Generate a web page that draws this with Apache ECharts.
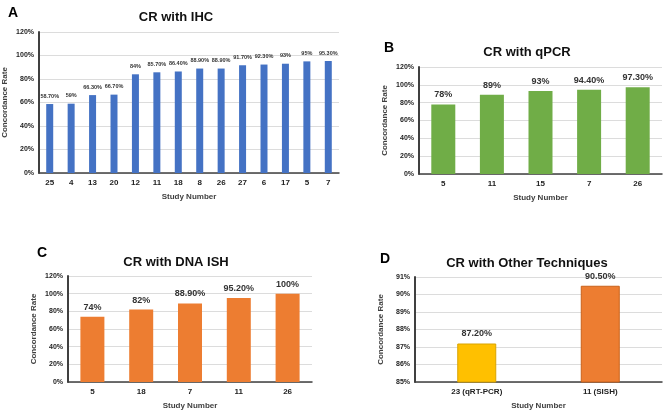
<!DOCTYPE html>
<html>
<head>
<meta charset="utf-8">
<script src="https://cdn.jsdelivr.net/npm/echarts@6/dist/echarts.min.js"></script>
<style>
  html, body { margin: 0; padding: 0; background: #fff; }
  #chart { width: 669px; height: 411px; }
</style>
</head>
<body>
<div id="chart"></div>
<script>
// panel A - IHC
var ihcStudies = ['25', '4', '13', '20', '12', '11', '18', '8', '26', '27', '6', '17', '5', '7'];
var ihcRates = [58.7, 59, 66.3, 66.7, 84, 85.7, 86.4, 88.9, 88.9, 91.7, 92.3, 93, 95, 95.3];
// panel B - qPCR
var qpcrStudies = ['5', '11', '15', '7', '26'];
var qpcrRates = [78, 89, 93, 94.4, 97.3];
// panel C - DNA ISH
var ishStudies = ['5', '18', '7', '11', '26'];
var ishRates = [74, 82, 88.9, 95.2, 100];
// panel D - other techniques
var otherStudies = ['23 (qRT-PCR)', '11 (SISH)'];
var otherRates = [87.2, 90.5];

var FONT = '"Liberation Sans", Arial, sans-serif';

function pct(v) {
    // 59 -> 59%, 58.7 -> 58.70%
    return (v % 1 === 0 ? v : v.toFixed(2)) + '%';
}

function xAxis(idx, cats) {
    return {
        type: 'category', gridIndex: idx, data: cats,
        name: 'Study Number', nameLocation: 'middle', nameGap: 20,
        nameTextStyle: { fontFamily: FONT, fontSize: 8, fontWeight: 'bold', color: '#404040' },
        axisLine: { lineStyle: { color: '#404040', width: 1.5 } },
        axisTick: { show: false },
        axisLabel: { fontFamily: FONT, fontSize: 8, fontWeight: 'bold', color: '#222', margin: 6 }
    };
}

function yAxis(idx, min, max, step) {
    return {
        type: 'value', gridIndex: idx, min: min, max: max, interval: step,
        name: 'Concordance Rate', nameLocation: 'middle', nameGap: 30,
        nameTextStyle: { fontFamily: FONT, fontSize: 8, fontWeight: 'bold', color: '#404040' },
        axisLine: { show: true, lineStyle: { color: '#404040', width: 2 } },
        axisTick: { show: false },
        splitLine: { lineStyle: { color: '#dcdcdc' } },
        axisLabel: { fontFamily: FONT, fontSize: 7, fontWeight: 'bold', color: '#222', margin: 5, formatter: '{value}%' }
    };
}

function bars(idx, data, color, width, fs) {
    return {
        type: 'bar', xAxisIndex: idx, yAxisIndex: idx, data: data,
        barWidth: width,
        itemStyle: { color: color },
        label: {
            show: true, position: 'top', distance: 5,
            fontFamily: FONT, fontSize: fs, fontWeight: 'bold', color: '#333',
            formatter: function (p) { return pct(p.value); }
        }
    };
}

function title(text, x, y) {
    return { text: text, left: x, top: y, textAlign: 'center',
        textStyle: { fontFamily: FONT, fontSize: 13, fontWeight: 'bold', color: '#111' } };
}
function letter(text, x, y) {
    return { text: text, left: x, top: y,
        textStyle: { fontFamily: FONT, fontSize: 14, fontWeight: 'bold', color: '#000' } };
}

var chart = echarts.init(document.getElementById('chart'));
chart.setOption({
    animation: false,
    backgroundColor: '#fff',
    title: [
        letter('A', 3, 1),
        title('CR with IHC', 171, 6),
        letter('B', 379, 36),
        title('CR with qPCR', 522, 41),
        letter('C', 32, 241),
        title('CR with DNA ISH', 171, 251),
        letter('D', 375, 247),
        title('CR with Other Techniques', 522, 252)
    ],
    grid: [
        { left: 38, top: 32, width: 301, height: 141 },
        { left: 419, top: 67, width: 243, height: 107 },
        { left: 68, top: 276, width: 244, height: 108 },
        { left: 415, top: 277, width: 247, height: 108 }
    ],
    xAxis: [
        xAxis(0, ihcStudies),
        xAxis(1, qpcrStudies),
        xAxis(2, ishStudies),
        xAxis(3, otherStudies)
    ],
    yAxis: [
        yAxis(0, 0, 120, 20),
        yAxis(1, 0, 120, 20),
        yAxis(2, 0, 120, 20),
        yAxis(3, 85, 91, 1)
    ],
    series: [
        bars(0, ihcRates, '#4472c4', 7, 5.5),
        bars(1, qpcrRates, '#70ad47', 24, 9),
        bars(2, ishRates, '#ed7d31', 24, 9),
        {
            type: 'bar', xAxisIndex: 3, yAxisIndex: 3,
            data: [
                { value: otherRates[0], itemStyle: { color: '#ffc000', borderColor: '#d9a300', borderWidth: 1 } },
                { value: otherRates[1], itemStyle: { color: '#ed7d31', borderColor: '#c9611a', borderWidth: 1 } }
            ],
            barWidth: 39,
            label: {
                show: true, position: 'top', distance: 5,
                fontFamily: FONT, fontSize: 9, fontWeight: 'bold', color: '#333',
                formatter: function (p) { return pct(p.value); }
            }
        }
    ]
});
</script>
</body>
</html>
